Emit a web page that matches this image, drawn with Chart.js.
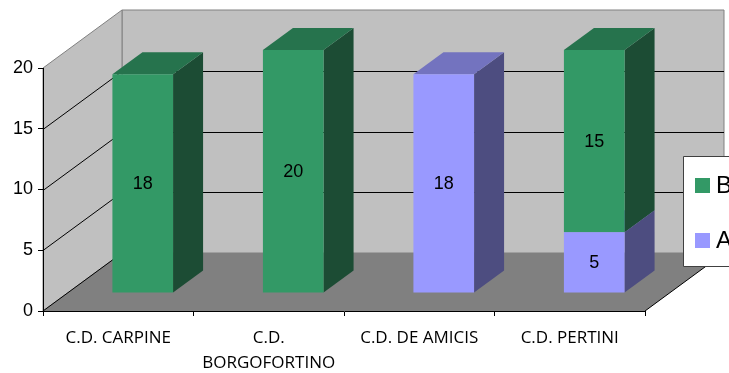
<!DOCTYPE html>
<html>
<head>
<meta charset="utf-8">
<script src="https://cdn.jsdelivr.net/npm/chart.js@4/dist/chart.umd.min.js"></script>
<style>
  html, body { margin: 0; padding: 0; background: #fff; }
  #wrap { width: 729px; height: 373px; }
</style>
</head>
<body>
<div id="wrap"><canvas id="c" width="729" height="373"></canvas></div>
<script>
// Data
const categories = [['C.D. CARPINE'], ['C.D.', 'BORGOFORTINO'], ['C.D. DE AMICIS'], ['C.D. PERTINI']];
const seriesNames = ['A', 'B'];
const seriesA = [0, 0, 18, 5];
const seriesB = [18, 20, 0, 15];
const yTicks = [0, 5, 10, 15, 20];

// Styles
const palette = {
  A: { front: '#9999ff', top: '#7373bf', side: '#4d4d80' },
  B: { front: '#339966', top: '#26734d', side: '#1c4c34' }
};
const WALL = '#c0c0c0';
const WALL_EDGE = '#808080';
const FLOOR = '#808080';
const DEPTH = { x: 79, y: -58 };    // full depth of the 3D box
const BAR_FRONT = 0.31;             // where the bar fronts sit inside the box
const BAR_DEPTH = 0.38;             // how deep each bar is

function poly(ctx, pts, fill, stroke) {
  ctx.beginPath();
  ctx.moveTo(pts[0][0], pts[0][1]);
  for (let i = 1; i < pts.length; i++) ctx.lineTo(pts[i][0], pts[i][1]);
  ctx.closePath();
  if (fill) { ctx.fillStyle = fill; ctx.fill(); }
  if (stroke) { ctx.strokeStyle = stroke; ctx.lineWidth = 1; ctx.stroke(); }
}
function line(ctx, x1, y1, x2, y2, color) {
  ctx.beginPath();
  ctx.moveTo(x1, y1);
  ctx.lineTo(x2, y2);
  ctx.strokeStyle = color;
  ctx.lineWidth = 1;
  ctx.stroke();
}

const scene3d = {
  id: 'scene3d',
  beforeDraw(chart) {
    const { ctx, chartArea: a, scales: { y } } = chart;
    const dx = DEPTH.x, dy = DEPTH.y;
    const y0 = y.getPixelForValue(y.min);
    const yT = y.getPixelForValue(y.max);
    ctx.save();
    // back wall
    poly(ctx, [[a.left + dx, yT + dy], [a.right + dx, yT + dy], [a.right + dx, y0 + dy], [a.left + dx, y0 + dy]], WALL, WALL_EDGE);
    // left wall
    poly(ctx, [[a.left, y0], [a.left, yT], [a.left + dx, yT + dy], [a.left + dx, y0 + dy]], WALL, WALL_EDGE);
    // grid lines on both walls
    yTicks.forEach(v => {
      if (v === y.min || v === y.max) return;
      const py = Math.round(y.getPixelForValue(v)) + 0.5;
      line(ctx, a.left, py, a.left + dx, py + dy, '#000');
      line(ctx, a.left + dx, py + dy, a.right + dx, py + dy, '#000');
    });
    // floor
    poly(ctx, [[a.left, y0], [a.right, y0], [a.right + dx, y0 + dy], [a.left + dx, y0 + dy]], FLOOR, null);
    line(ctx, a.left, y0, a.left + dx, y0 + dy, '#000');
    line(ctx, a.right, y0, a.right + dx, y0 + dy, '#000');
    ctx.restore();
  },
  beforeDatasetsDraw(chart) {
    const { ctx } = chart;
    ctx.save();
    ctx.translate(DEPTH.x * BAR_FRONT, DEPTH.y * BAR_FRONT);
    const bx = DEPTH.x * BAR_DEPTH, by = DEPTH.y * BAR_DEPTH;
    for (let i = 0; i < categories.length; i++) {
      chart.data.datasets.forEach((ds, d) => {
        if (!ds.data[i]) return;
        const el = chart.getDatasetMeta(d).data[i];
        const { x, y, base, width } = el.getProps(['x', 'y', 'base', 'width'], true);
        const l = x - width / 2, r = x + width / 2;
        const c = palette[ds.label];
        poly(ctx, [[r, y], [r + bx, y + by], [r + bx, base + by], [r, base]], c.side, null);
        poly(ctx, [[l, y], [r, y], [r + bx, y + by], [l + bx, y + by]], c.top, null);
      });
    }
  },
  afterDatasetsDraw(chart) {
    const { ctx } = chart;
    ctx.font = '18px "Liberation Sans", Arial, sans-serif';
    ctx.fillStyle = '#000';
    ctx.textAlign = 'center';
    ctx.textBaseline = 'middle';
    chart.data.datasets.forEach((ds, d) => {
      chart.getDatasetMeta(d).data.forEach((el, i) => {
        if (!ds.data[i]) return;
        const { x, y, base } = el.getProps(['x', 'y', 'base'], true);
        ctx.fillText(String(ds.data[i]), x, (y + base) / 2 + 1);
      });
    });
    ctx.restore();
  },
  afterDraw(chart) {
    const { ctx } = chart;
    ctx.save();
    // legend box
    poly(ctx, [[683.5, 156.5], [740, 156.5], [740, 266.5], [683.5, 266.5]], '#fff', '#404040');
    const items = chart.data.datasets.slice().reverse();
    ctx.font = '24px "Liberation Sans", Arial, sans-serif';
    ctx.textAlign = 'left';
    ctx.textBaseline = 'alphabetic';
    items.forEach((ds, k) => {
      const top = 178 + k * 55;
      ctx.fillStyle = palette[ds.label].front;
      ctx.fillRect(695, top, 15, 15);
      ctx.fillStyle = '#000';
      ctx.fillText(ds.label, 716, top + 15);
    });
    ctx.restore();
  }
};

new Chart(document.getElementById('c'), {
  type: 'bar',
  data: {
    labels: categories,
    datasets: [
      { label: seriesNames[0], data: seriesA, backgroundColor: palette.A.front, borderWidth: 0 },
      { label: seriesNames[1], data: seriesB, backgroundColor: palette.B.front, borderWidth: 0 }
    ]
  },
  options: {
    responsive: false,
    animation: false,
    devicePixelRatio: 1,
    layout: { padding: { top: 68, right: 84, left: 0, bottom: 0 } },
    datasets: { bar: { categoryPercentage: 1, barPercentage: 0.403 } },
    plugins: { legend: { display: false }, tooltip: { enabled: false } },
    scales: {
      x: {
        stacked: true,
        grid: { offset: true, drawOnChartArea: false, tickLength: 5, color: '#000', lineWidth: 1 },
        border: { display: true, color: '#000' },
        ticks: {
          font: { family: '"Open Sans", sans-serif', size: 17, lineHeight: 1.45 },
          color: '#000', padding: 10, maxRotation: 0, autoSkip: false
        },
        afterFit(s) { s.height = 62; }
      },
      y: {
        stacked: true,
        min: 0, max: 20,
        afterBuildTicks(s) { s.ticks = yTicks.map(v => ({ value: v })); },
        grid: { drawOnChartArea: false, tickLength: 5, color: '#000' },
        border: { display: true, color: '#000' },
        ticks: { font: { family: '"Liberation Sans", Arial, sans-serif', size: 18 }, color: '#000', padding: 5 },
        afterFit(s) { s.width = 43; }
      }
    }
  },
  plugins: [scene3d]
});
</script>
</body>
</html>
